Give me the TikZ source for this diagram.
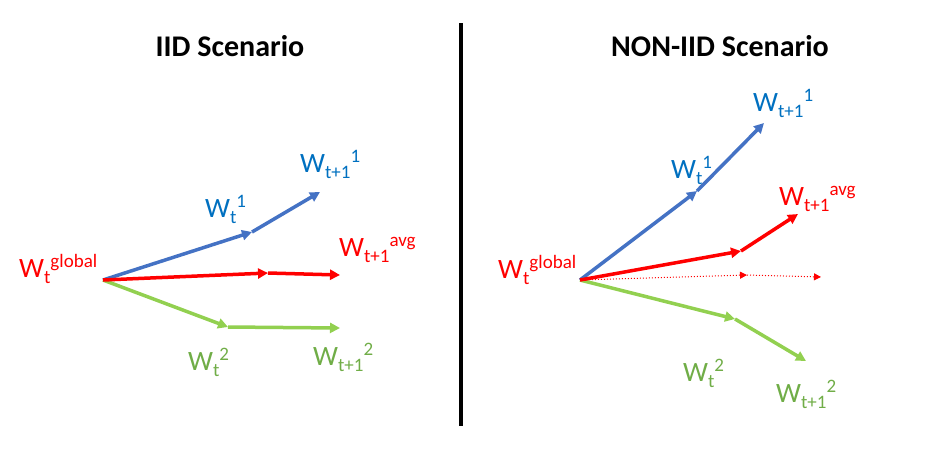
\documentclass[tikz,border=0pt]{standalone}
\usepackage{fontspec}
\setmainfont{Carlito}
\usetikzlibrary{arrows.meta}
\definecolor{arrblue}{HTML}{4472C4}
\definecolor{txtblue}{HTML}{0070C0}
\definecolor{arrred}{HTML}{FF0000}
\definecolor{arrgreen}{HTML}{92D050}
\definecolor{txtgreen}{HTML}{70AD47}
\newcommand{\wlab}[2]{W\raisebox{-6pt}{\fontsize{19}{19}\selectfont #1}\raisebox{9.5pt}{\fontsize{19}{19}\selectfont #2}}
\tikzset{
  lbl/.style={anchor=base west, inner sep=0pt, font=\fontsize{28}{28}\selectfont},
  ttl/.style={anchor=base, inner sep=0pt, font=\fontsize{30}{30}\selectfont\bfseries},
  vec/.style={line width=3.5pt, -{Triangle[length=10pt,width=10pt]}},
  dvec/.style={line width=1pt, dotted, -{Triangle[length=7pt,width=7pt]}},
}
\begin{document}
\begin{tikzpicture}[x=1pt,y=-1pt]
\useasboundingbox (0,0) rectangle (938,467);
% titles
\node[ttl] (t1) at (230,56) {IID Scenario};
\node[ttl] (t2) at (720,56) {NON-IID Scenario};
% divider
\coordinate (vtop) at (461,23);
\coordinate (vbot) at (461,426);
\draw[line width=4pt] (vtop) -- (vbot);
% ---- left panel
\coordinate (O1) at (103,280);
\coordinate (lb1) at (252,232);
\coordinate (lb2) at (320,192);
\coordinate (lr1) at (268,273);
\coordinate (lr2) at (340,275);
\coordinate (lg1) at (228,327);
\coordinate (lg2) at (340,328);
\draw[vec, arrblue] (O1) -- (lb1);
\draw[vec, arrblue] (lb1) -- (lb2);
\draw[vec, arrgreen] (O1) -- (lg1);
\draw[vec, arrgreen] (lg1) -- (lg2);
\draw[vec, arrred] (O1) -- (lr1);
\draw[vec, arrred] (lr1) -- (lr2);
\node[lbl, arrred] (lglob) at (19,277) {\wlab{t}{global}};
\node[lbl, txtblue] (lw1) at (205,217) {\wlab{t}{1}};
\node[lbl, txtblue] (lw11) at (300,172) {\wlab{t+1}{1}};
\node[lbl, arrred] (lavg) at (339,256) {\wlab{t+1}{avg}};
\node[lbl, txtgreen] (lw2) at (188,370) {\wlab{t}{2}};
\node[lbl, txtgreen] (lw12) at (313,365) {\wlab{t+1}{2}};
% ---- right panel
\coordinate (O2) at (580,280);
\coordinate (rb1) at (697,191);
\coordinate (rb2) at (764,123);
\coordinate (rr1) at (741,251);
\coordinate (rr2) at (798,214);
\coordinate (rd1) at (747,275);
\coordinate (rd2) at (821,277);
\coordinate (rg1) at (735,319);
\coordinate (rg2) at (806,361);
\draw[vec, arrblue] (O2) -- (rb1);
\draw[vec, arrblue] (rb1) -- (rb2);
\draw[vec, arrgreen] (O2) -- (rg1);
\draw[vec, arrgreen] (rg1) -- (rg2);
\draw[dvec, arrred] (O2) -- (rd1);
\draw[dvec, arrred] (rd1) -- (rd2);
\draw[vec, arrred] (O2) -- (rr1);
\draw[vec, arrred] (rr1) -- (rr2);
\node[lbl, arrred] (rglob) at (498,278) {\wlab{t}{global}};
\node[lbl, txtblue] (rw1) at (671,178) {\wlab{t}{1}};
\node[lbl, txtblue] (rw11) at (753,111) {\wlab{t+1}{1}};
\node[lbl, arrred] (ravg) at (779,205) {\wlab{t+1}{avg}};
\node[lbl, txtgreen] (rw2) at (683,381) {\wlab{t}{2}};
\node[lbl, txtgreen] (rw12) at (776,402) {\wlab{t+1}{2}};
\end{tikzpicture}
\end{document}
